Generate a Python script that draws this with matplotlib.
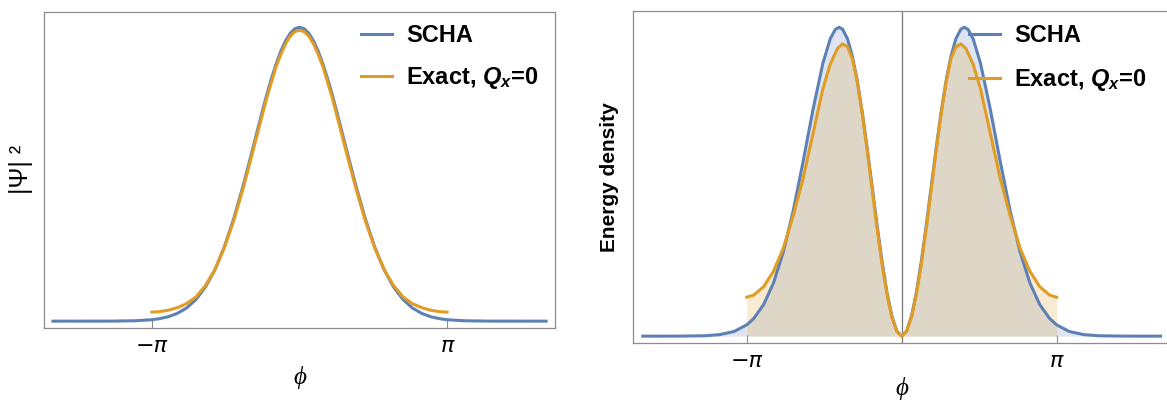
import matplotlib
matplotlib.use('Agg')
import matplotlib.pyplot as plt

plt.rcParams['font.family'] = ['Liberation Sans', 'DejaVu Sans']
plt.rcParams['mathtext.fontset'] = 'custom'
plt.rcParams['mathtext.it'] = 'Liberation Sans:italic:bold'
plt.rcParams['mathtext.rm'] = 'Liberation Sans:bold'

# |Psi|^2 panel
phi_psi_scha = [-5.25, -4.0, -3.5, -3.14, -3.0, -2.8, -2.6, -2.4, -2.2, -2.0, -1.8, -1.6,
                -1.4, -1.2, -1.0, -0.8, -0.7, -0.6, -0.5, -0.4, -0.3, -0.2, -0.1, 0.0,
                0.1, 0.2, 0.3, 0.4, 0.5, 0.6, 0.7, 0.8, 1.0, 1.2, 1.4, 1.6,
                1.8, 2.0, 2.2, 2.4, 2.6, 2.8, 3.0, 3.14, 3.5, 4.0, 5.25]
psi_scha = [0.0, 0.0002, 0.0014, 0.005, 0.008, 0.0148, 0.0265, 0.0453, 0.0743, 0.117, 0.175, 0.253,
            0.349, 0.461, 0.584, 0.709, 0.769, 0.824, 0.874, 0.918, 0.953, 0.979, 0.995, 1.0,
            0.995, 0.979, 0.953, 0.918, 0.874, 0.824, 0.769, 0.709, 0.584, 0.461, 0.349, 0.253,
            0.175, 0.117, 0.0743, 0.0453, 0.0265, 0.0148, 0.008, 0.005, 0.0014, 0.0002, 0.0]

phi_psi_exact = [-3.1416, -3.0, -2.8, -2.6, -2.4, -2.2, -2.0, -1.8, -1.6, -1.4, -1.2, -1.0,
                 -0.8, -0.7, -0.6, -0.5, -0.4, -0.3, -0.2, -0.1, 0.0,
                 0.1, 0.2, 0.3, 0.4, 0.5, 0.6, 0.7, 0.8,
                 1.0, 1.2, 1.4, 1.6, 1.8, 2.0, 2.2, 2.4, 2.6, 2.8, 3.0, 3.1416]
psi_exact = [0.031, 0.032, 0.037, 0.046, 0.060, 0.083, 0.122, 0.176, 0.250, 0.342, 0.452, 0.573,
             0.697, 0.758, 0.812, 0.865, 0.907, 0.943, 0.969, 0.985, 0.990,
             0.985, 0.969, 0.943, 0.907, 0.865, 0.812, 0.758, 0.697,
             0.573, 0.452, 0.342, 0.250, 0.176, 0.122, 0.083, 0.060, 0.046, 0.037, 0.032, 0.031]

# energy density panel
phi_en_scha = [-5.25, -4.5, -4.0, -3.7, -3.4, -3.14, -3.0, -2.8, -2.6, -2.4, -2.2, -2.0,
               -1.8, -1.6, -1.45, -1.35, -1.27, -1.2, -1.1, -1.0, -0.9, -0.8, -0.7, -0.6,
               -0.5, -0.4, -0.3, -0.2, -0.1, 0.0, 0.1, 0.2, 0.3, 0.4, 0.5,
               0.6, 0.7, 0.8, 0.9, 1.0, 1.1, 1.2, 1.27, 1.35, 1.45, 1.6,
               1.8, 2.0, 2.2, 2.4, 2.6, 2.8, 3.0, 3.14, 3.4, 3.7, 4.0, 4.5, 5.25]
en_scha = [0.0, 0.0001, 0.0013, 0.0048, 0.015, 0.0368, 0.0572, 0.1023, 0.1723, 0.273, 0.4058, 0.5645,
           0.7324, 0.8823, 0.9623, 0.9923, 1.0, 0.9939, 0.9631, 0.9066, 0.8262, 0.7254, 0.6095, 0.4854,
           0.3608, 0.2442, 0.1434, 0.0658, 0.0168, 0.0, 0.0168, 0.0658, 0.1434, 0.2442, 0.3608,
           0.4854, 0.6095, 0.7254, 0.8262, 0.9066, 0.9631, 0.9939, 1.0, 0.9923, 0.9623, 0.8823,
           0.7324, 0.5645, 0.4058, 0.273, 0.1723, 0.1023, 0.0572, 0.0368, 0.015, 0.0048, 0.0013, 0.0001, 0.0]

phi_en_exact = [-3.1416, -3.0, -2.8, -2.6, -2.4, -2.2, -2.0, -1.8, -1.6, -1.45, -1.3, -1.2,
                -1.1, -1.0, -0.9, -0.8, -0.7, -0.6, -0.5, -0.4, -0.3, -0.2, -0.1, 0.0,
                0.1, 0.2, 0.3, 0.4, 0.5, 0.6, 0.7, 0.8, 0.9, 1.0, 1.1, 1.2,
                1.3, 1.45, 1.6, 1.8, 2.0, 2.2, 2.4, 2.6, 2.8, 3.0, 3.1416]
en_exact = [0.126, 0.133, 0.160, 0.210, 0.285, 0.390, 0.510, 0.655, 0.800, 0.880, 0.932, 0.946,
            0.937, 0.898, 0.823, 0.720, 0.602, 0.476, 0.350, 0.234, 0.137, 0.062, 0.016, 0.0,
            0.016, 0.062, 0.137, 0.234, 0.350, 0.476, 0.602, 0.720, 0.823, 0.898, 0.937, 0.946,
            0.932, 0.880, 0.800, 0.655, 0.510, 0.390, 0.285, 0.210, 0.160, 0.133, 0.126]

tick_pos = [-3.1416, 3.1416]
tick_text = ['\u2212\u03c0', '\u03c0']

blue = '#5e81b5'
orange = '#e19c24'
frame = '#8c8c8c'

fig = plt.figure(figsize=(11.67, 4.03), dpi=100)
ax1 = fig.add_axes([0.0377, 0.187, 0.4379, 0.784])
ax2 = fig.add_axes([0.5428, 0.149, 0.4597, 0.824])

for ax in (ax1, ax2):
    ax.set_xlim(-5.44, 5.44)
    ax.set_ylim(-0.022, 1.053)
    for s in ax.spines.values():
        s.set_color(frame)
        s.set_linewidth(0.9)
    ax.set_yticks([])
    ax.set_xticks(tick_pos)
    ax.set_xticklabels(tick_text, family=['DejaVu Sans'], style='oblique', fontsize=16)
    ax.tick_params(axis='x', direction='in', length=5.5, width=0.8, color=frame, pad=6)

# left: wavefunction
ax1.plot(phi_psi_scha, psi_scha, color=blue, lw=2.2, label='SCHA')
ax1.plot(phi_psi_exact, psi_exact, color=orange, lw=2.2, label='Exact, $Q_x$=0')
ax1.set_ylabel('|\u03a8| \u00b2', fontsize=18)
ax1.yaxis.set_label_coords(-0.022, 0.5)
ax1.set_xlabel('\u03d5', family=['Liberation Serif', 'DejaVu Serif'], style='italic', fontsize=18)
ax1.xaxis.set_label_coords(0.5, -0.12)
ax1.legend(loc='upper left', bbox_to_anchor=(0.621, 0.96), frameon=False,
           prop={'weight': 'bold', 'size': 17}, handlelength=1.3, handletextpad=0.6,
           labelspacing=0.75, borderpad=0, borderaxespad=0)

# right: energy density
ax2.axvline(0, color='#777777', lw=0.9)
ax2.fill_between(phi_en_scha, 0, en_scha, color=blue, alpha=0.2, lw=0)
ax2.fill_between(phi_en_exact, 0, en_exact, color=orange, alpha=0.2, lw=0)
ax2.plot(phi_en_scha, en_scha, color=blue, lw=2.2, label='SCHA')
ax2.plot(phi_en_exact, en_exact, color=orange, lw=2.2, label='Exact, $Q_x$=0')
ax2.set_ylabel('Energy density', fontsize=15, fontweight='bold')
ax2.yaxis.set_label_coords(-0.027, 0.5)
ax2.set_xlabel('\u03d5', family=['Liberation Serif', 'DejaVu Serif'], style='italic', fontsize=18)
ax2.xaxis.set_label_coords(0.5, -0.103)
ax2.legend(loc='upper left', bbox_to_anchor=(0.626, 0.96), frameon=False,
           prop={'weight': 'bold', 'size': 17}, handlelength=1.3, handletextpad=0.6,
           labelspacing=0.85, borderpad=0, borderaxespad=0)

plt.savefig('out.png', dpi=100)
